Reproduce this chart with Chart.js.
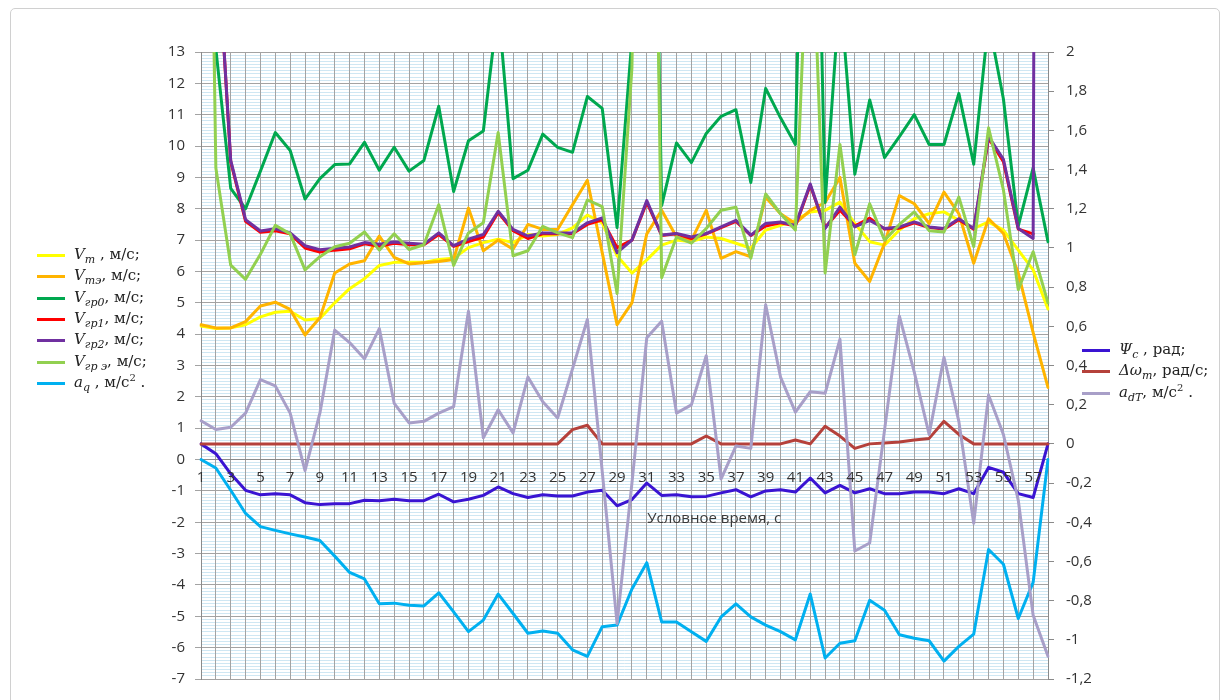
<!DOCTYPE html>
<html>
<head>
<meta charset="utf-8">
<script src="https://cdn.jsdelivr.net/npm/chart.js@4.4.1/dist/chart.umd.min.js"></script>
<style>
body { margin: 0; background: #fff; }
#wrap { position: relative; width: 1229px; height: 700px; overflow: hidden; }
#frame { position: absolute; left: 10px; top: 8px; width: 1208px; height: 720px; border: 1px solid #d0d0d0; border-radius: 5px; }
#chart { position: absolute; left: 0; top: 0; }
.legend { position: absolute; font-family: "DejaVu Serif", serif; font-size: 15px; color: #222; }
.item { height: 21.3px; display: flex; align-items: center; white-space: nowrap; }
.swatch { display: inline-block; width: 28px; height: 3px; margin-right: 9px; }
.legend i { font-style: italic; }
.legend sub { font-size: 11px; font-style: italic; vertical-align: -4px; }
.legend sup { font-size: 10px; vertical-align: 6px; }
</style>
</head>
<body>
<div id="wrap">
  <div id="frame"></div>
  <canvas id="chart" width="1229" height="700"></canvas>
  <div class="legend" id="legendLeft" style="left:37px; top:245px;"></div>
  <div class="legend" id="legendRight" style="left:1082px; top:340px;"></div>
</div>
<script>
const categories = [1,2,3,4,5,6,7,8,9,10,11,12,13,14,15,16,17,18,19,20,21,22,23,24,25,26,27,28,29,30,
  31,32,33,34,35,36,37,38,39,40,41,42,43,44,45,46,47,48,49,50,51,52,53,54,55,56,57,58];

// left axis, м/с and м/с²
const vm = [4.26,4.18,4.2,4.3,4.55,4.7,4.73,4.45,4.5,5.0,5.45,5.77,6.19,6.29,6.29,6.29,6.38,6.42,6.76,6.92,
  7.03,6.92,7.18,7.13,7.18,7.39,7.8,7.55,6.5,5.95,6.37,6.84,7.0,6.95,7.1,7.05,6.9,6.74,7.32,7.47,
  7.63,7.9,7.95,8.21,7.53,6.95,6.84,7.32,7.68,7.84,7.9,7.63,7.37,7.58,7.32,6.68,6.05,4.8];
const vmE = [4.3,4.2,4.2,4.4,4.9,5.02,4.79,3.97,4.52,5.95,6.24,6.34,7.13,6.45,6.24,6.28,6.32,6.38,8.02,6.66,
  7.0,6.71,7.5,7.34,7.34,8.13,8.91,6.6,4.3,5.0,7.2,7.95,7.1,7.0,7.95,6.42,6.63,6.47,8.37,7.84,
  7.53,7.95,8.2,9.0,6.26,5.68,6.9,8.42,8.16,7.53,8.53,7.84,6.26,7.68,7.21,5.95,4.05,2.3];
const vgr0 = [30,13.1,8.65,8.0,9.2,10.43,9.86,8.31,8.96,9.41,9.43,10.12,9.23,9.96,9.2,9.54,11.27,8.55,10.17,10.48,
  14.5,8.96,9.23,10.38,9.96,9.8,11.58,11.2,7.4,13.4,35,8.1,10.1,9.47,10.4,10.95,11.16,8.84,11.84,10.9,
  10.05,30,8.2,15,9.1,11.47,9.63,10.3,11.0,10.05,10.05,11.68,9.42,14,11.5,7.45,9.3,6.95];
const vgr1 = [40,17.4,9.5,7.6,7.25,7.3,7.2,6.75,6.62,6.68,6.72,6.88,6.8,6.9,6.85,6.85,7.18,6.8,6.95,7.1,
  7.88,7.3,7.05,7.2,7.2,7.2,7.5,7.65,6.76,7.0,8.2,7.15,7.2,7.05,7.2,7.4,7.6,7.15,7.45,7.55,
  7.45,8.75,7.4,7.95,7.45,7.7,7.35,7.38,7.55,7.4,7.35,7.65,7.35,10.25,9.5,7.35,7.2,null];
const vgr2 = [40,17.4,9.54,7.65,7.29,7.36,7.23,6.82,6.69,6.74,6.78,6.92,6.87,6.94,6.9,6.87,7.23,6.82,7.03,7.18,
  7.92,7.34,7.13,7.23,7.23,7.23,7.55,7.71,6.6,7.0,8.26,7.16,7.21,7.1,7.21,7.42,7.63,7.16,7.53,7.58,
  7.47,8.79,7.37,8.05,7.42,7.63,7.37,7.42,7.58,7.42,7.37,7.68,7.37,10.3,9.58,7.37,7.05,150];
const vgrE = [40,9.3,6.2,5.75,6.55,7.47,7.2,6.05,6.47,6.79,6.9,7.26,6.68,7.2,6.7,6.85,8.13,6.19,7.23,7.55,
  10.43,6.5,6.66,7.44,7.23,7.08,8.28,8.07,5.3,12.5,40,5.8,7.1,6.9,7.37,7.95,8.05,6.42,8.47,7.84,
  7.32,19,5.95,10.05,6.53,8.16,7.0,7.5,7.9,7.3,7.26,8.37,6.79,10.58,8.6,5.42,6.63,5.0];
const aq = [0,-0.27,-0.98,-1.72,-2.14,-2.26,-2.37,-2.47,-2.58,-3.08,-3.6,-3.81,-4.6,-4.58,-4.65,-4.67,-4.25,-4.86,-5.49,-5.12,
  -4.29,-4.91,-5.54,-5.47,-5.54,-6.07,-6.28,-5.33,-5.28,-4.13,-3.29,-5.18,-5.18,-5.49,-5.8,-5.02,-4.6,-5.02,-5.28,-5.49,
  -5.75,-4.29,-6.33,-5.86,-5.78,-4.49,-4.81,-5.59,-5.7,-5.78,-6.43,-5.96,-5.57,-2.87,-3.34,-5.07,-3.92,0];

// right axis, рад, рад/с, м/с²
const psi = [0,-0.05,-0.153,-0.237,-0.26,-0.254,-0.26,-0.3,-0.31,-0.305,-0.305,-0.288,-0.29,-0.283,-0.29,-0.29,-0.257,-0.296,-0.283,-0.263,
  -0.22,-0.254,-0.274,-0.26,-0.266,-0.266,-0.246,-0.237,-0.316,-0.284,-0.2,-0.263,-0.26,-0.27,-0.268,-0.25,-0.234,-0.27,-0.24,-0.234,
  -0.246,-0.174,-0.25,-0.212,-0.25,-0.229,-0.254,-0.254,-0.246,-0.246,-0.254,-0.229,-0.254,-0.12,-0.145,-0.254,-0.274,0];
const dOmega = [0,0,0,0,0,0,0,0,0,0,0,0,0,0,0,0,0,0,0,0,
  0,0,0,0,0,0.073,0.095,0,0,0,0,0,0,0,0.04,0,0,0,0,0,
  0.02,0,0.09,0.04,-0.023,0,0.005,0.01,0.02,0.028,0.115,0.048,0,0,0,0,0,0];
const adT = [0.118,0.073,0.085,0.157,0.328,0.296,0.157,-0.137,0.157,0.581,0.517,0.434,0.588,0.207,0.107,0.115,0.157,0.19,0.677,0.031,
  0.174,0.056,0.341,0.215,0.132,0.383,0.635,-0.14,-0.917,-0.2,0.542,0.626,0.157,0.199,0.45,-0.179,-0.011,-0.023,0.71,0.341,
  0.162,0.266,0.258,0.534,-0.547,-0.506,0.07,0.652,0.366,0.048,0.442,0.115,-0.405,0.249,0.048,-0.288,-0.875,-1.084];

const leftSeries = [
  { data: vm, color: '#ffff00', sym: 'V', sub: 'm', unit: ' , м/с;' },
  { data: vmE, color: '#ffb400', sym: 'V', sub: 'mэ', unit: ', м/с;' },
  { data: vgr0, color: '#00a84f', sym: 'V', sub: 'гр0', unit: ', м/с;' },
  { data: vgr1, color: '#ff0000', sym: 'V', sub: 'гр1', unit: ', м/с;' },
  { data: vgr2, color: '#7030a0', sym: 'V', sub: 'гр2', unit: ', м/с;' },
  { data: vgrE, color: '#92d050', sym: 'V', sub: 'гр э', unit: ', м/с;' },
  { data: aq, color: '#00b0f0', sym: 'a', sub: 'q', unit: ' , м/с<sup>2</sup> .' }
];
const rightSeries = [
  { data: psi, color: '#3a14d2', sym: 'Ψ', sub: 'c', unit: '  , рад;' },
  { data: dOmega, color: '#b5413b', sym: 'Δω', sub: 'm', unit: ', рад/с;' },
  { data: adT, color: '#a89fc8', sym: 'a', sub: 'dT', unit: ', м/с<sup>2</sup> .' }
];
const xTitle = 'Условное время, с';

const all = leftSeries.map(s => ({ ...s, axis: 'y' })).concat(rightSeries.map(s => ({ ...s, axis: 'y2' })));
const datasets = all.map((s, i) => ({
  label: s.sym + s.sub,
  data: s.data,
  yAxisID: s.axis,
  borderColor: s.color,
  backgroundColor: s.color,
  borderWidth: 3,
  pointRadius: 0,
  tension: 0,
  borderJoinStyle: 'round',
  borderCapStyle: 'round',
  order: all.length - i
}));

function fillLegend(el, list) {
  el.innerHTML = list.map(s =>
    '<div class="item"><span class="swatch" style="background:' + s.color + '"></span>' +
    '<span><i>' + s.sym + '</i><sub>' + s.sub + '</sub>' + s.unit + '</span></div>').join('');
}
fillLegend(document.getElementById('legendLeft'), leftSeries);
fillLegend(document.getElementById('legendRight'), rightSeries);

const tickFont = { family: 'Open Sans', size: 15 };
const tickColor = '#333333';

const axisTitle = {
  id: 'axisTitle',
  afterDraw(chart) {
    const c = chart.ctx;
    const xs = chart.scales.x;
    const ys = chart.scales.y;
    c.save();
    c.font = '15px "Open Sans"';
    c.fillStyle = '#3a3a3a';
    c.textAlign = 'center';
    c.textBaseline = 'middle';
    c.fillText(xTitle, xs.left + (xs.right - xs.left) * 0.606, ys.getPixelForValue(0) + 59);
    c.restore();
  }
};

new Chart(document.getElementById('chart'), {
  type: 'line',
  data: { labels: categories, datasets: datasets },
  options: {
    responsive: false,
    animation: false,
    layout: { padding: { left: 161, right: 121, top: 52, bottom: 12 } },
    plugins: { legend: { display: false }, tooltip: { enabled: false } },
    scales: {
      x: {
        type: 'category',
        position: { y: 0 },
        offset: false,
        grid: { color: '#a3a3a3', lineWidth: 1, tickLength: 5, z: -1 },
        border: { color: '#8a8a8a' },
        ticks: {
          autoSkip: false, maxRotation: 0, padding: 4, font: tickFont, color: tickColor, z: 1,
          callback: (v, i) => (i % 2 === 0 ? categories[i] : '')
        }
      },
      yMinor: {
        position: 'left',
        min: -7, max: 13,
        ticks: { display: false, stepSize: 0.1 },
        grid: { color: '#cfe7f3', drawTicks: false, z: -2 },
        border: { display: false }
      },
      y: {
        position: 'left',
        min: -7, max: 13,
        ticks: { stepSize: 1, padding: 10, font: tickFont, color: tickColor },
        grid: { color: '#a3a3a3', tickLength: 6, z: -1 },
        border: { color: '#8a8a8a' },
        afterFit: s => { s.width = 40; }
      },
      y2: {
        position: 'right',
        min: -1.2, max: 2,
        ticks: {
          stepSize: 0.2, padding: 12, font: tickFont, color: tickColor,
          callback: v => String(Math.round(v * 10) / 10).replace('.', ',')
        },
        grid: { drawOnChartArea: false, tickLength: 6, color: '#8a8a8a' },
        border: { color: '#8a8a8a' },
        afterFit: s => { s.width = 60; }
      }
    }
  },
  plugins: [axisTitle]
});
</script>
</body>
</html>
